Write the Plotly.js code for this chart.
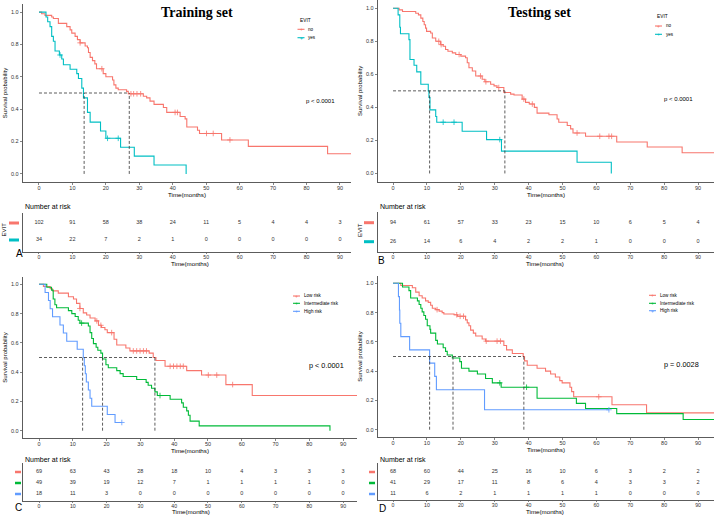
<!DOCTYPE html>
<html>
<head>
<meta charset="utf-8">
<script src="https://cdn.plot.ly/plotly-3.0.1.min.js"></script>
<style>html,body{margin:0;padding:0;background:#fff}#chart{width:714px;height:515px}</style>
</head>
<body>
<div id="chart"></div>
<script>
// ---- data ----
const riskTimes = [0, 10, 20, 30, 40, 50, 60, 70, 80, 90];

// A: training set, EVIT no / yes
const aNoT = [0, 0.8, 1.8, 3.8, 4.3, 5.8, 8.3, 9.3, 9.8, 10.8, 11.5, 12.3, 13.8, 14.5, 14.8, 15.3, 16.0, 16.7, 17.2, 19.2, 20.0, 22.0, 22.4, 23.0, 23.7, 26.2, 26.7, 31.2, 32.2, 33.2, 34.4, 37.2, 38.2, 42.2, 43.7, 44.2, 47.4, 48.0, 54.6, 62.6, 86.3, 93.3];
const aNoS = [1, 0.99, 0.98, 0.97, 0.96, 0.93, 0.91, 0.89, 0.87, 0.85, 0.83, 0.81, 0.79, 0.78, 0.75, 0.72, 0.70, 0.68, 0.65, 0.62, 0.60, 0.58, 0.55, 0.53, 0.52, 0.51, 0.495, 0.48, 0.47, 0.45, 0.43, 0.41, 0.38, 0.355, 0.34, 0.29, 0.27, 0.25, 0.21, 0.17, 0.125, 0.125];
const aNoCens = [12.3, 18.8, 27.5, 28.3, 29.3, 30.4, 40.7, 41.4, 50.1, 52.1, 57.1];
const aYesT = [0, 2.1, 2.6, 3.3, 3.8, 4.3, 4.8, 6.1, 6.8, 7.3, 9.3, 11.3, 11.8, 12.8, 13.3, 14.5, 15.3, 18.4, 20.0, 24.4, 28.5, 34.4, 44.0];
const aYesS = [1, 0.97, 0.94, 0.91, 0.85, 0.82, 0.76, 0.735, 0.71, 0.675, 0.647, 0.62, 0.59, 0.53, 0.47, 0.38, 0.32, 0.265, 0.22, 0.165, 0.11, 0.055, 0];
const aYesCens = [6.3, 20.5, 23.7];
const aMedians = [13.5, 27];
const aRiskNo = [102, 91, 58, 38, 24, 11, 5, 4, 4, 3];
const aRiskYes = [34, 22, 7, 2, 1, 0, 0, 0, 0, 0];

// B: testing set, EVIT no / yes
const bNoT = [0, 1.8, 2.8, 6.7, 7.5, 8.2, 8.8, 9.2, 9.6, 9.9, 11.1, 11.6, 12.6, 14.0, 14.8, 15.5, 16.2, 17.5, 18.5, 20.0, 21.4, 21.9, 22.4, 23.4, 24.4, 26.3, 27.1, 28.8, 29.8, 30.7, 32.7, 34.7, 35.7, 38.1, 39.1, 40.2, 41.7, 42.5, 46.0, 48.4, 48.9, 51.4, 52.4, 53.1, 56.8, 66.0, 75.0, 85.3, 94.7];
const bNoS = [1, 0.99, 0.98, 0.97, 0.96, 0.94, 0.92, 0.90, 0.88, 0.86, 0.85, 0.82, 0.80, 0.78, 0.77, 0.75, 0.74, 0.73, 0.72, 0.71, 0.70, 0.67, 0.64, 0.62, 0.59, 0.57, 0.555, 0.54, 0.53, 0.52, 0.49, 0.48, 0.475, 0.45, 0.43, 0.42, 0.40, 0.365, 0.355, 0.33, 0.31, 0.29, 0.27, 0.245, 0.225, 0.19, 0.16, 0.125, 0.125];
const bNoCens = [13.5, 14.2, 19.5, 25.8, 27.4, 31.2, 38.6, 41.1, 54.3, 61.0, 63.7, 64.5];
const bYesT = [0, 1.5, 2.0, 2.2, 4.7, 5.0, 6.2, 7.0, 8.2, 10.4, 10.6, 10.9, 12.6, 12.9, 20.4, 27.6, 32.0, 54.3, 64.4];
const bYesS = [1, 0.96, 0.885, 0.846, 0.81, 0.69, 0.655, 0.615, 0.54, 0.5, 0.46, 0.385, 0.345, 0.31, 0.255, 0.205, 0.135, 0.068, 0];
const bYesCens = [14.8, 18.0, 31.5];
const bMedians = [10.8, 33];
const bRiskNo = [94, 61, 57, 33, 23, 15, 10, 6, 5, 4];
const bRiskYes = [26, 14, 6, 4, 2, 2, 1, 0, 0, 0];

// C: training set, risk groups
const cLowT = [0, 1.3, 3.3, 4.0, 5.7, 8.7, 10.2, 11.1, 12.1, 13.1, 14.1, 15.1, 16.6, 17.6, 18.5, 19.5, 20.2, 22.2, 23.0, 25.7, 26.9, 32.6, 33.8, 34.6, 37.3, 43.7, 48.1, 55.3, 63.1, 94.1];
const cLowS = [1, 0.985, 0.97, 0.955, 0.94, 0.915, 0.90, 0.87, 0.835, 0.805, 0.79, 0.77, 0.75, 0.72, 0.705, 0.69, 0.67, 0.625, 0.585, 0.565, 0.545, 0.53, 0.50, 0.48, 0.44, 0.41, 0.38, 0.315, 0.24, 0.24];
const cLowCens = [12.1, 17.1, 18.3, 21.5, 27.9, 28.9, 29.9, 30.9, 31.8, 38.8, 39.8, 40.8, 41.8, 42.7, 50.1, 52.6, 57.3];
const cMidT = [0, 2.3, 3.7, 4.2, 4.7, 5.2, 8.7, 9.7, 10.7, 11.6, 12.1, 14.6, 15.1, 15.6, 16.1, 16.9, 17.4, 18.3, 18.8, 19.8, 20.5, 23.0, 24.0, 24.9, 28.9, 31.7, 32.3, 33.3, 34.3, 35.0, 38.8, 42.2, 42.7, 43.7, 44.2, 44.7, 47.4, 86.1];
const cMidS = [1, 0.98, 0.96, 0.90, 0.86, 0.84, 0.82, 0.80, 0.78, 0.755, 0.735, 0.715, 0.67, 0.63, 0.595, 0.57, 0.55, 0.53, 0.49, 0.45, 0.43, 0.41, 0.39, 0.37, 0.35, 0.33, 0.31, 0.29, 0.265, 0.24, 0.215, 0.19, 0.16, 0.135, 0.105, 0.065, 0.033, 0];
const cMidCens = [12.6, 35.8];
const cHighT = [0, 1.8, 2.8, 3.3, 4.0, 6.2, 7.2, 8.2, 11.3, 13.1, 13.4, 13.7, 14.0, 14.6, 15.1, 15.6, 20.2, 22.5, 24.5];
const cHighS = [1, 0.944, 0.889, 0.833, 0.778, 0.722, 0.667, 0.611, 0.556, 0.5, 0.444, 0.389, 0.333, 0.278, 0.222, 0.167, 0.111, 0.056, 0.056];
const cHighCens = [24.5];
const cMedians = [12.9, 18.8, 34.3];
const cRiskLow = [69, 63, 43, 28, 18, 10, 4, 3, 3, 3];
const cRiskMid = [49, 39, 19, 12, 7, 1, 1, 1, 1, 0];
const cRiskHigh = [18, 11, 3, 0, 0, 0, 0, 0, 0, 0];

// D: testing set, risk groups
const dLowT = [0, 2.3, 5.7, 6.7, 7.7, 8.6, 9.6, 10.4, 11.1, 11.6, 12.6, 13.6, 14.5, 15.0, 18.0, 19.0, 21.4, 21.9, 22.4, 22.9, 23.7, 24.4, 26.3, 27.3, 32.7, 33.5, 35.2, 38.4, 38.8, 39.6, 42.5, 45.0, 46.5, 47.9, 49.2, 49.9, 52.2, 52.7, 53.3, 64.6, 74.8, 94.7];
const dLowS = [1, 0.985, 0.97, 0.94, 0.915, 0.90, 0.88, 0.87, 0.85, 0.83, 0.82, 0.81, 0.80, 0.79, 0.785, 0.775, 0.75, 0.73, 0.71, 0.68, 0.66, 0.64, 0.62, 0.605, 0.575, 0.545, 0.52, 0.50, 0.47, 0.44, 0.42, 0.40, 0.38, 0.36, 0.335, 0.32, 0.29, 0.26, 0.225, 0.17, 0.115, 0.115];
const dLowCens = [13.0, 18.8, 19.8, 20.8, 27.5, 30.7, 31.7, 60.7];
const dMidT = [0, 2.8, 4.7, 5.2, 7.2, 7.7, 8.2, 8.6, 9.1, 9.6, 10.1, 10.9, 11.1, 12.6, 13.1, 14.8, 15.5, 16.0, 17.5, 19.7, 20.2, 22.4, 24.9, 27.3, 29.3, 31.9, 42.5, 54.1, 56.8, 66.0, 85.6, 94.7];
const dMidS = [1, 0.975, 0.95, 0.90, 0.88, 0.855, 0.83, 0.805, 0.78, 0.755, 0.71, 0.685, 0.66, 0.61, 0.585, 0.56, 0.535, 0.51, 0.49, 0.465, 0.42, 0.40, 0.38, 0.35, 0.32, 0.29, 0.215, 0.18, 0.145, 0.11, 0.07, 0.07];
const dMidCens = [31.5, 39.4];
const dHighT = [0, 1.6, 1.9, 2.0, 2.3, 4.9, 10.8, 12.3, 12.8, 27.0, 63.7];
const dHighS = [1, 0.909, 0.818, 0.727, 0.636, 0.545, 0.455, 0.364, 0.273, 0.136, 0.136];
const dHighCens = [63.7];
const dMedians = [10.8, 17.7, 38.6];
const dRiskLow = [68, 60, 44, 25, 16, 10, 6, 3, 2, 2];
const dRiskMid = [41, 29, 17, 11, 8, 6, 4, 3, 3, 2];
const dRiskHigh = [11, 6, 2, 1, 1, 1, 1, 0, 0, 0];

const evitNames = ["no", "yes"];
const riskNames = ["Low risk", "Intermediate risk", "High risk"];
const RED = "#F8766D", TEAL = "#00BFC4", GREEN = "#00BA38", BLUE = "#619CFF";
const FONT = "Liberation Sans, Arial, sans-serif";

// ---- helpers ----
const W = 714, H = 515;
const px = (x) => x / W;
const py = (y) => 1 - y / H;

function survAt(times, surv, t) {
    let s = surv[0];
    for (let i = 0; i < times.length; i++) {
        if (times[i] <= t) s = surv[i];
        else break;
    }
    return s;
}

function curve(xa, ya, t, s, cens, color) {
    return [
        {
            x: t, y: s, xaxis: xa, yaxis: ya, type: "scatter", mode: "lines",
            line: { shape: "hv", color: color, width: 1.1 },
            hoverinfo: "skip", showlegend: false,
        },
        {
            x: cens, y: cens.map((c) => survAt(t, s, c)), xaxis: xa, yaxis: ya,
            type: "scatter", mode: "markers",
            marker: { symbol: "cross-thin-open", size: 4, color: color, line: { color: color, width: 0.8 } },
            hoverinfo: "skip", showlegend: false,
        },
    ];
}

function medianLines(xa, ya, medians) {
    const xs = [0, Math.max(...medians)];
    const ys = [0.5, 0.5];
    medians.forEach((m) => {
        xs.push(null, m, m);
        ys.push(null, 0, 0.5);
    });
    return {
        x: xs, y: ys, xaxis: xa, yaxis: ya, type: "scatter", mode: "lines",
        line: { color: "#333", width: 0.8, dash: "3px,2px" },
        hoverinfo: "skip", showlegend: false, connectgaps: false,
    };
}

function riskRows(xa, ya, rows) {
    return rows.map((vals, i) => ({
        x: riskTimes, y: riskTimes.map(() => rows.length - i), text: vals.map(String),
        xaxis: xa, yaxis: ya, type: "scatter", mode: "text",
        textfont: { size: 5.5, color: "#333", family: FONT },
        hoverinfo: "skip", showlegend: false,
    }));
}

function xAxis(domain, range, anchor, withTitle) {
    return {
        domain: domain, range: range, anchor: anchor, tickvals: riskTimes,
        ticks: "outside", ticklen: withTitle ? 2 : 1.5, tickwidth: 0.6, tickcolor: "#333",
        ticklabelstandoff: withTitle ? -1 : -2,
        showline: true, linecolor: "#333", linewidth: 0.8,
        showgrid: false, zeroline: false, fixedrange: true,
        tickfont: { size: withTitle ? 5.5 : 5.2, color: "#333", family: FONT },
        title: withTitle
            ? { text: "Time(months)", font: { size: 6.2, color: "#000", family: FONT }, standoff: 1 }
            : { text: "" },
    };
}

function survYAxis(domain, anchor) {
    return {
        domain: domain, range: [-0.05, 1.05], anchor: anchor,
        tickvals: [0, 0.2, 0.4, 0.6, 0.8, 1.0], tickformat: ".1f",
        ticks: "outside", ticklen: 2.5, tickwidth: 0.6, tickcolor: "#333",
        showline: true, linecolor: "#333", linewidth: 0.8,
        showgrid: false, zeroline: false, fixedrange: true,
        tickfont: { size: 5.5, color: "#333", family: FONT },
        title: { text: "Survival probability", font: { size: 6, color: "#000", family: FONT }, standoff: 2 },
    };
}

function tableYAxis(domain, range, anchor) {
    return {
        domain: domain, range: range, anchor: anchor,
        showticklabels: false, ticks: "",
        showline: true, linecolor: "#333", linewidth: 0.8,
        showgrid: false, zeroline: false, fixedrange: true,
    };
}

const shapes = [];
const annotations = [];

function note(x, y, text, size, opts) {
    annotations.push(Object.assign({
        xref: "paper", yref: "paper", x: px(x), y: py(y), xanchor: "center", yanchor: "middle",
        text: text, showarrow: false, font: { size: size, color: "#000", family: FONT },
    }, opts || {}));
}

// coloured strata bars to the left of a risk table
function strataBars(ya, colors, x0, x1, width) {
    colors.forEach((c, i) => {
        shapes.push({
            type: "line", xref: "paper", yref: ya,
            x0: px(x0), x1: px(x1), y0: colors.length - i, y1: colors.length - i,
            line: { color: c, width: width },
        });
    });
}

// manual legend: key line + "+" and label
function legend(names, colors, title, keyX, textX, titleY, rowYs) {
    if (title) {
        note(keyX, titleY, title, 4.8, { xanchor: "left" });
    }
    names.forEach((n, i) => {
        shapes.push({
            type: "line", xref: "paper", yref: "paper",
            x0: px(keyX), x1: px(keyX + 7), y0: py(rowYs[i]), y1: py(rowYs[i]),
            line: { color: colors[i], width: 1.1 },
        });
        note(keyX + 3.5, rowYs[i], "+", 5, { font: { size: 5, color: colors[i], family: FONT } });
        note(textX, rowYs[i], n, 4.6, { xanchor: "left" });
    });
}

// ---- traces ----
const data = [
    ...curve("x", "y", aNoT, aNoS, aNoCens, RED),
    ...curve("x", "y", aYesT, aYesS, aYesCens, TEAL),
    medianLines("x", "y", aMedians),
    ...curve("x2", "y2", bNoT, bNoS, bNoCens, RED),
    ...curve("x2", "y2", bYesT, bYesS, bYesCens, TEAL),
    medianLines("x2", "y2", bMedians),
    ...curve("x3", "y3", cLowT, cLowS, cLowCens, RED),
    ...curve("x3", "y3", cMidT, cMidS, cMidCens, GREEN),
    ...curve("x3", "y3", cHighT, cHighS, cHighCens, BLUE),
    medianLines("x3", "y3", cMedians),
    ...curve("x4", "y4", dLowT, dLowS, dLowCens, RED),
    ...curve("x4", "y4", dMidT, dMidS, dMidCens, GREEN),
    ...curve("x4", "y4", dHighT, dHighS, dHighCens, BLUE),
    medianLines("x4", "y4", dMedians),
    ...riskRows("x5", "y5", [aRiskNo, aRiskYes]),
    ...riskRows("x6", "y6", [bRiskNo, bRiskYes]),
    ...riskRows("x7", "y7", [cRiskLow, cRiskMid, cRiskHigh]),
    ...riskRows("x8", "y8", [dRiskLow, dRiskMid, dRiskHigh]),
];

// ---- layout ----
const leftX = [px(23), px(351)];
const leftXc = [px(23), px(357)];
const rightX = [px(378), 1];
const rangeA = [-4.78, 93.3];
const rangeB = [-4.43, 94.7];
const rangeC = [-4.74, 94.1];

const serif = { size: 14, color: "#000", family: "Liberation Serif, Times New Roman, serif" };
note(197, 12.5, "<b>Training set</b>", 14, { font: serif });
note(539, 12.5, "<b>Testing set</b>", 14, { font: serif });
note(320, 101, "p &lt; 0.0001", 6);
note(678, 99, "p &lt; 0.0001", 6);
note(326, 365, "p &lt; 0.0001", 7.3);
note(681, 364, "p = 0.0028", 7.3);
note(23, 206, "Number at risk", 7, { xanchor: "left" });
note(378, 206, "Number at risk", 7, { xanchor: "left" });
note(23, 459, "Number at risk", 7, { xanchor: "left" });
note(378, 459, "Number at risk", 7, { xanchor: "left" });
note(190, 263, "Time(months)", 6.2);
note(545, 263, "Time(months)", 6.2);
note(191, 511.8, "Time(months)", 6.2);
note(545, 511.8, "Time(months)", 6.2);
note(3.5, 230, "EVIT", 6, { textangle: -90 });
note(360, 230, "EVIT", 6, { textangle: -90 });
note(19, 253.5, "A", 10);
note(381.5, 260, "B", 10);
note(18.5, 507, "C", 10);
note(382, 508.5, "D", 10);

legend(evitNames, [RED, TEAL], "EVIT", 297.5, 306, 20.7, [29.3, 37.7]);
legend(evitNames, [RED, TEAL], "EVIT", 655, 664, 16.7, [26, 34.3]);
legend(riskNames, [RED, GREEN, BLUE], "", 293, 302, 0, [296, 303.3, 311.3]);
legend(riskNames, [RED, GREEN, BLUE], "", 649, 657.5, 0, [295.3, 303.3, 310.7]);

strataBars("y5", [RED, TEAL], 9, 19, 3);
strataBars("y6", [RED, TEAL], 364, 374, 3);
strataBars("y7", [RED, GREEN, BLUE], 15, 21, 2.5);
strataBars("y8", [RED, GREEN, BLUE], 369, 375, 2.5);

const layout = {
    width: W, height: H,
    margin: { l: 0, r: 0, t: 0, b: 0 },
    paper_bgcolor: "#fff", plot_bgcolor: "#fff",
    showlegend: false,
    font: { family: FONT, color: "#333" },
    xaxis: xAxis(leftX, rangeA, "y", true),
    yaxis: survYAxis([py(182), py(4)], "x"),
    xaxis2: xAxis(rightX, rangeB, "y2", true),
    yaxis2: survYAxis([py(181.7), 1], "x2"),
    xaxis3: xAxis(leftXc, rangeC, "y3", true),
    yaxis3: survYAxis([py(438), py(277)], "x3"),
    xaxis4: xAxis(rightX, rangeB, "y4", true),
    yaxis4: survYAxis([py(437), py(276)], "x4"),
    xaxis5: xAxis(leftX, rangeA, "y5", false),
    yaxis5: tableYAxis([py(252), py(213)], [0.294, 2.588], "x5"),
    xaxis6: xAxis(rightX, rangeB, "y6", false),
    yaxis6: tableYAxis([py(252), py(212)], [0.458, 2.563], "x6"),
    xaxis7: xAxis(leftXc, rangeC, "y7", false),
    yaxis7: tableYAxis([py(501), py(463)], [0.364, 3.818], "x7"),
    xaxis8: xAxis(rightX, rangeB, "y8", false),
    yaxis8: tableYAxis([py(500), py(463)], [0.455, 3.818], "x8"),
    shapes: shapes,
    annotations: annotations,
};

Plotly.newPlot("chart", data, layout, { displayModeBar: false, staticPlot: true });
</script>
</body>
</html>
